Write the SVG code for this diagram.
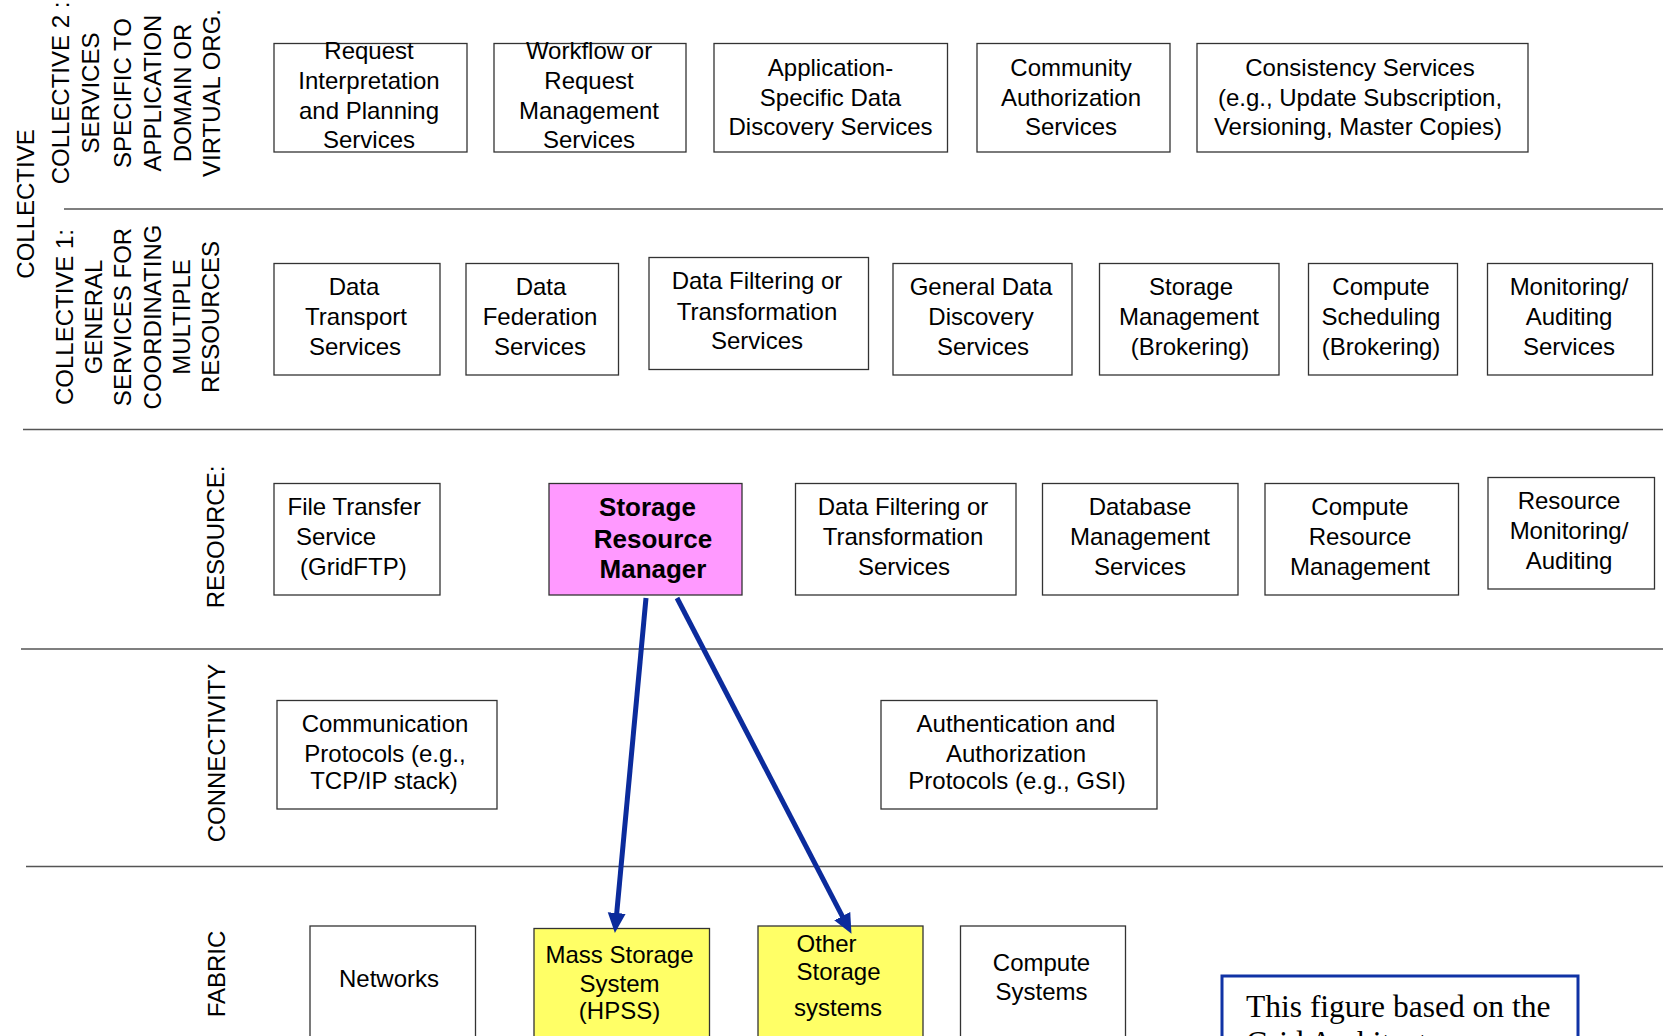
<svg xmlns="http://www.w3.org/2000/svg" width="1663" height="1036" viewBox="0 0 1663 1036">
<style>
  .box{fill:#ffffff;stroke:#333333;stroke-width:1.3}
  .pink{fill:#ff99ff;stroke:#333333;stroke-width:1.3}
  .yel{fill:#ffff66;stroke:#333333;stroke-width:1.3}
  .sep{stroke:#555555;stroke-width:1.5;fill:none}
  .t{font-family:"Liberation Sans",Arial,sans-serif;font-size:24px;fill:#000000;text-anchor:middle}
  .ts{font-family:"Liberation Sans",Arial,sans-serif;font-size:24px;fill:#000000;text-anchor:start}
  .tb{font-family:"Liberation Sans",Arial,sans-serif;font-size:26px;font-weight:bold;fill:#000000;text-anchor:middle}
  .lbl{font-family:"Liberation Sans",Arial,sans-serif;font-size:24px;fill:#000000;text-anchor:middle}
  .arrow{stroke:#0b2b9c;stroke-width:5;fill:none}
  .note{fill:#ffffff;stroke:#1033a5;stroke-width:3}
  .nt{font-family:"Liberation Serif","Times New Roman",serif;font-size:31.5px;fill:#000000}
</style>
<defs>
  <marker id="ah" markerUnits="userSpaceOnUse" markerWidth="22" markerHeight="20" refX="9" refY="9" orient="auto">
    <path d="M0,0 L20,9 L0,18 z" fill="#0b2b9c"/>
  </marker>
</defs>
<rect width="1663" height="1036" fill="#ffffff"/>

<g id="separators">
  <line class="sep" x1="64" y1="209" x2="1663" y2="209"/>
  <line class="sep" x1="23" y1="429.5" x2="1663" y2="429.5"/>
  <line class="sep" x1="21" y1="649" x2="1663" y2="649"/>
  <line class="sep" x1="26" y1="866.5" x2="1663" y2="866.5"/>
</g>

<g id="layer-labels">
  <text class="lbl" transform="translate(34,204) rotate(-90)">COLLECTIVE</text>
  <g id="label-collective2">
    <text class="lbl" transform="translate(68.5,93) rotate(-90)">COLLECTIVE 2 :</text>
    <text class="lbl" transform="translate(98.5,93) rotate(-90)">SERVICES</text>
    <text class="lbl" transform="translate(130.5,93) rotate(-90)">SPECIFIC TO</text>
    <text class="lbl" transform="translate(160.5,93) rotate(-90)">APPLICATION</text>
    <text class="lbl" transform="translate(190.5,93) rotate(-90)">DOMAIN OR</text>
    <text class="lbl" transform="translate(219.5,93) rotate(-90)">VIRTUAL ORG.</text>
  </g>
  <g id="label-collective1">
    <text class="lbl" transform="translate(73,317) rotate(-90)">COLLECTIVE 1:</text>
    <text class="lbl" transform="translate(101.5,317) rotate(-90)">GENERAL</text>
    <text class="lbl" transform="translate(131,317) rotate(-90)">SERVICES FOR</text>
    <text class="lbl" transform="translate(160.5,317) rotate(-90)">COORDINATING</text>
    <text class="lbl" transform="translate(189.5,317) rotate(-90)">MULTIPLE</text>
    <text class="lbl" transform="translate(218.5,317) rotate(-90)">RESOURCES</text>
  </g>
  <text class="lbl" transform="translate(224,537) rotate(-90)">RESOURCE:</text>
  <text class="lbl" transform="translate(225,753) rotate(-90)">CONNECTIVITY</text>
  <text class="lbl" transform="translate(225,974) rotate(-90)">FABRIC</text>
</g>

<!-- Collective 2 row -->
<g id="request-interpretation">
  <rect class="box" x="274" y="43.5" width="193" height="108.5"/>
  <text class="t" x="369" y="59">Request</text>
  <text class="t" x="369" y="89">Interpretation</text>
  <text class="t" x="369" y="118.5">and Planning</text>
  <text class="t" x="369" y="148">Services</text>
</g>
<g id="workflow-management">
  <rect class="box" x="494" y="43.5" width="192" height="108.5"/>
  <text class="t" x="589" y="59">Workflow or</text>
  <text class="t" x="589" y="89">Request</text>
  <text class="t" x="589" y="118.5">Management</text>
  <text class="t" x="589" y="148">Services</text>
</g>
<g id="app-specific-discovery">
  <rect class="box" x="714" y="43.5" width="233.5" height="108.5"/>
  <text class="t" x="830.5" y="76">Application-</text>
  <text class="t" x="830.5" y="105.5">Specific Data</text>
  <text class="t" x="830.5" y="134.5">Discovery Services</text>
</g>
<g id="community-authorization">
  <rect class="box" x="977" y="43.5" width="193" height="108.5"/>
  <text class="t" x="1071" y="76">Community</text>
  <text class="t" x="1071" y="105.5">Authorization</text>
  <text class="t" x="1071" y="134.5">Services</text>
</g>
<g id="consistency-services">
  <rect class="box" x="1197" y="43.5" width="331" height="108.5"/>
  <text class="t" x="1360" y="76">Consistency Services</text>
  <text class="t" x="1360" y="105.5">(e.g., Update Subscription,</text>
  <text class="t" x="1358" y="134.5">Versioning, Master Copies)</text>
</g>

<!-- Collective 1 row -->
<g id="data-transport">
  <rect class="box" x="274" y="263.5" width="166" height="111.5"/>
  <text class="t" x="354" y="295">Data</text>
  <text class="t" x="356" y="325">Transport</text>
  <text class="t" x="355" y="355">Services</text>
</g>
<g id="data-federation">
  <rect class="box" x="466" y="263.5" width="152.5" height="111.5"/>
  <text class="t" x="541" y="295">Data</text>
  <text class="t" x="540" y="325">Federation</text>
  <text class="t" x="540" y="355">Services</text>
</g>
<g id="data-filtering-c1">
  <rect class="box" x="649" y="257.5" width="219.5" height="112"/>
  <text class="t" x="757" y="289">Data Filtering or</text>
  <text class="t" x="757" y="319.5">Transformation</text>
  <text class="t" x="757" y="349">Services</text>
</g>
<g id="general-data-discovery">
  <rect class="box" x="893" y="263.5" width="179" height="111.5"/>
  <text class="t" x="981" y="295">General Data</text>
  <text class="t" x="981" y="325">Discovery</text>
  <text class="t" x="983" y="355">Services</text>
</g>
<g id="storage-management">
  <rect class="box" x="1099.5" y="263.5" width="179.5" height="111.5"/>
  <text class="t" x="1191" y="295">Storage</text>
  <text class="t" x="1189" y="325">Management</text>
  <text class="t" x="1190" y="355">(Brokering)</text>
</g>
<g id="compute-scheduling">
  <rect class="box" x="1308.5" y="263.5" width="149" height="111.5"/>
  <text class="t" x="1381" y="295">Compute</text>
  <text class="t" x="1381" y="325">Scheduling</text>
  <text class="t" x="1381" y="355">(Brokering)</text>
</g>
<g id="monitoring-auditing">
  <rect class="box" x="1487.5" y="263.5" width="165" height="111.5"/>
  <text class="t" x="1569" y="295">Monitoring/</text>
  <text class="t" x="1569" y="325">Auditing</text>
  <text class="t" x="1569" y="355">Services</text>
</g>

<!-- Resource row -->
<g id="file-transfer">
  <rect class="box" x="274" y="483.5" width="166" height="111.5"/>
  <text class="ts" x="287.5" y="515">File Transfer</text>
  <text class="ts" x="296" y="545">Service</text>
  <text class="ts" x="300" y="575">(GridFTP)</text>
</g>
<g id="storage-resource-manager">
  <rect class="pink" x="549" y="483.5" width="193" height="111.5"/>
  <text class="tb" x="647.5" y="516">Storage</text>
  <text class="tb" x="653" y="547.5">Resource</text>
  <text class="tb" x="653" y="578">Manager</text>
</g>
<g id="data-filtering-res">
  <rect class="box" x="795.5" y="483.5" width="220.5" height="111.5"/>
  <text class="t" x="903" y="515">Data Filtering or</text>
  <text class="t" x="903" y="545">Transformation</text>
  <text class="t" x="904" y="575">Services</text>
</g>
<g id="database-management">
  <rect class="box" x="1042.5" y="483.5" width="195.5" height="111.5"/>
  <text class="t" x="1140" y="515">Database</text>
  <text class="t" x="1140" y="545">Management</text>
  <text class="t" x="1140" y="575">Services</text>
</g>
<g id="compute-resource-management">
  <rect class="box" x="1265" y="483.5" width="193.5" height="111.5"/>
  <text class="t" x="1360" y="515">Compute</text>
  <text class="t" x="1360" y="545">Resource</text>
  <text class="t" x="1360" y="575">Management</text>
</g>
<g id="resource-monitoring">
  <rect class="box" x="1488" y="477.5" width="166.5" height="111.5"/>
  <text class="t" x="1569" y="509">Resource</text>
  <text class="t" x="1569" y="539">Monitoring/</text>
  <text class="t" x="1569" y="568.5">Auditing</text>
</g>

<!-- Connectivity row -->
<g id="communication-protocols">
  <rect class="box" x="277" y="700.5" width="220" height="108.5"/>
  <text class="t" x="385" y="732">Communication</text>
  <text class="t" x="385" y="761.5">Protocols (e.g.,</text>
  <text class="t" x="384" y="789">TCP/IP stack)</text>
</g>
<g id="authentication-authorization">
  <rect class="box" x="881" y="700.5" width="276" height="108.5"/>
  <text class="t" x="1016" y="732">Authentication and</text>
  <text class="t" x="1016" y="761.5">Authorization</text>
  <text class="t" x="1017" y="789">Protocols (e.g., GSI)</text>
</g>

<!-- Fabric row -->
<g id="networks">
  <rect class="box" x="310" y="926" width="165.5" height="120"/>
  <text class="t" x="389" y="987">Networks</text>
</g>
<g id="mass-storage">
  <rect class="yel" x="534" y="928.5" width="175.5" height="120"/>
  <text class="t" x="619.5" y="962.5">Mass Storage</text>
  <text class="t" x="619.5" y="991.5">System</text>
  <text class="t" x="619.5" y="1019">(HPSS)</text>
</g>
<g id="other-storage">
  <rect class="yel" x="758" y="926" width="165" height="120"/>
  <text class="ts" x="796.5" y="951.5">Other</text>
  <text class="ts" x="796.5" y="980">Storage</text>
  <text class="ts" x="794" y="1016">systems</text>
</g>
<g id="compute-systems">
  <rect class="box" x="960.5" y="926" width="165" height="120"/>
  <text class="t" x="1041.5" y="971">Compute</text>
  <text class="t" x="1041.5" y="1000">Systems</text>
</g>
<g id="note">
  <rect class="note" x="1222" y="976" width="356" height="80"/>
  <text class="nt" x="1246" y="1017">This figure based on the</text>
  <text class="nt" x="1246" y="1053">Grid Architecture</text>
</g>

<g id="connectors">
  <line class="arrow" x1="646" y1="598" x2="615.9" y2="922" marker-end="url(#ah)"/>
  <line class="arrow" x1="677" y1="598" x2="846.4" y2="924.1" marker-end="url(#ah)"/>
</g>
</svg>
